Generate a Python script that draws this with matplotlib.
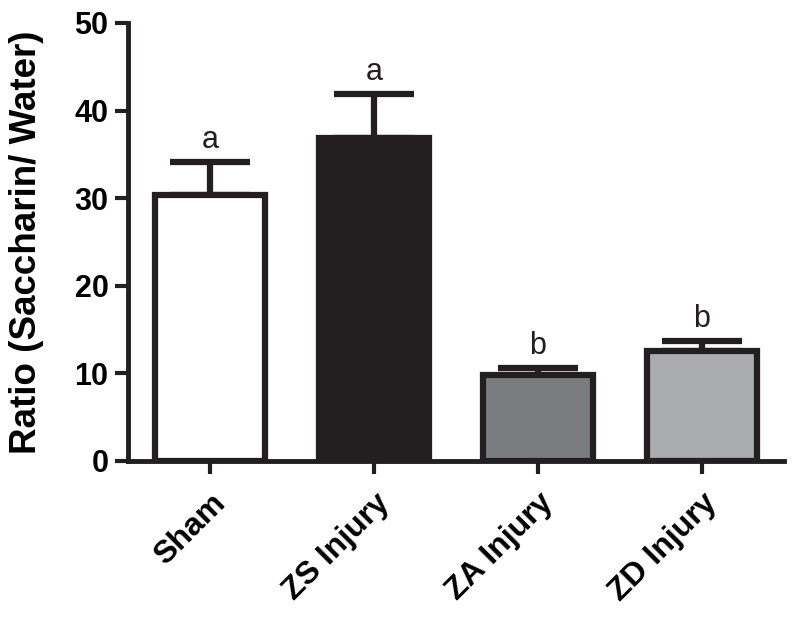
import numpy as np
import matplotlib.pyplot as plt

plt.rcParams['font.family'] = ['Liberation Sans', 'DejaVu Sans']

groups = ['Sham', 'ZS Injury', 'ZA Injury', 'ZD Injury']
means = [30.4, 36.9, 9.8, 12.5]
sems = [3.7, 5.0, 0.8, 1.2]
letters = ['a', 'a', 'b', 'b']
fills = ['#ffffff', '#231f20', '#7b7c7f', '#aaabaf']

fig = plt.figure(figsize=(8, 6.21), dpi=100)
ax = fig.add_axes([0.16, 0.258, 0.82, 0.705])

x = np.arange(len(groups))
ax.bar(x, means, width=0.665, color=fills, edgecolor='#231f20', linewidth=4.5, zorder=2)
ax.errorbar(x, means, yerr=[np.zeros(len(sems)), sems], fmt='none', ecolor='#231f20',
            elinewidth=4.5, capsize=29, capthick=4.5, zorder=1)

for i in range(len(groups)):
    ax.text(x[i], means[i] + sems[i] + 0.8, letters[i], ha='center', va='bottom',
            fontsize=22, color='#231f20')

ax.set_xlim(-0.5, 3.5)
ax.set_ylim(0, 50)
ax.set_yticks([0, 10, 20, 30, 40, 50])
ax.set_xticks(x)
ax.set_xticklabels(groups, rotation=45, ha='right', rotation_mode='anchor',
                   fontsize=23, fontweight='bold')
for lab in ax.get_yticklabels():
    lab.set_fontsize(22)
    lab.set_fontweight('bold')
ax.set_ylabel('Ratio (Saccharin/ Water)', fontsize=26.5, fontweight='bold', va='center')
ax.yaxis.set_label_coords(-0.154, 0.5)

for s in ['top', 'right']:
    ax.spines[s].set_visible(False)
for s in ['left', 'bottom']:
    ax.spines[s].set_linewidth(3.5)
    ax.spines[s].set_color('#231f20')
ax.tick_params(axis='both', width=3, length=9.5, color='#231f20', pad=4.5)
ax.tick_params(axis='x', pad=10)

plt.savefig('out.png', dpi=100)
